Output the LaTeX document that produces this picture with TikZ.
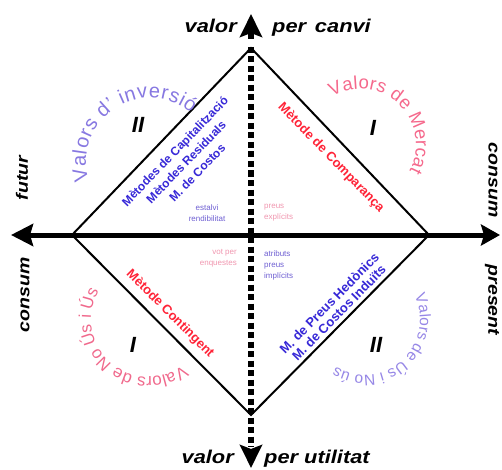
\documentclass[tikz,border=0pt]{standalone}
\usepackage{fontspec}
\setmainfont{Liberation Sans}
\newfontfamily\axisfont[FakeStretch=1.18]{Liberation Sans}
\usetikzlibrary{arrows.meta,decorations.text}

\definecolor{invcol}{RGB}{135,120,225}
\definecolor{mercol}{RGB}{245,105,140}
\definecolor{nouscol}{RGB}{240,105,140}
\definecolor{uscol}{RGB}{150,135,230}
\definecolor{metblue}{RGB}{55,40,215}
\definecolor{metred}{RGB}{255,35,55}
\definecolor{smallblue}{RGB}{110,95,210}
\definecolor{smallpink}{RGB}{240,150,175}

\newcommand\arcfontA{\fontsize{20}{20}\selectfont\color{invcol}}
\newcommand\arcfontB{\fontsize{18.5}{18.5}\selectfont\color{mercol}}
\newcommand\arcfontC{\fontsize{17}{17}\selectfont\color{nouscol}}
\newcommand\arcfontD{\fontsize{15.5}{15.5}\selectfont\color{uscol}}

\begin{document}
\begin{tikzpicture}[x=1pt,y=1pt,
  axislabel/.style={font=\axisfont\bfseries\itshape\fontsize{18.5}{18.5}\selectfont, inner sep=0pt},
  sidelabel/.style={font=\axisfont\bfseries\itshape\fontsize{16.5}{16.5}\selectfont, inner sep=0pt},
  numeral/.style={font=\bfseries\itshape\fontsize{22}{22}\selectfont, inner sep=0pt},
  methodtxt/.style={font=\bfseries\fontsize{12}{15.5}\selectfont, align=center, inner sep=0pt},
  smalltxt/.style={font=\fontsize{8}{11}\selectfont, inner sep=0pt},
  diamondline/.style={line width=2pt, line join=miter},
  haxis/.style={line width=5pt, {Stealth[length=22pt,width=22pt,inset=3pt]}-{Stealth[length=19pt,width=21pt,inset=3pt]}},
  vaxis/.style={line width=6pt, dash pattern=on 6pt off 3.5pt},
  vtip/.style={line width=6pt, -{Stealth[length=23pt,width=22pt,inset=4pt]}},
  arctext/.style={decorate, decoration={text along path, text align=fit to path, text={#1}}},
]
\useasboundingbox (0,0) rectangle (502,469);

% diamond
\coordinate (T) at (251,421);
\coordinate (R) at (429,234);
\coordinate (B) at (251,54);
\coordinate (L) at (72,234);
\draw[diamondline] (T) -- (R) -- (B) -- (L) -- cycle;

% axes
\coordinate (hl) at (11,234);
\coordinate (hr) at (500,234);
\draw[haxis] (hl) -- (hr);
\coordinate (vt) at (251,422);
\coordinate (vb) at (251,22);
\draw[vaxis] (vt) -- (vb);
\coordinate (tipTb) at (251,430);
\coordinate (tipT) at (251,455);
\draw[vtip] (tipTb) -- (tipT);
\coordinate (tipBb) at (251,20);
\coordinate (tipB) at (251,1);
\draw[vtip] (tipBb) -- (tipB);

% axis labels
\node[axislabel, anchor=base east] (valT) at (237,436) {valor};
\node[axislabel, anchor=base west] (canvi) at (272,436) {per\hspace{0.15em} canvi};
\node[axislabel, anchor=base east] (valB) at (234,6) {valor};
\node[axislabel, anchor=base west] (util) at (264,6) {per utilitat};
\node[sidelabel, rotate=90] (futur) at (22,291) {futur};
\node[sidelabel, rotate=90] (consL) at (25,174) {consum};
\node[sidelabel, rotate=-90] (consR) at (493,289) {consum};
\node[sidelabel, rotate=-90] (pres) at (492,169) {present};

% numerals
\node[numeral] (n1) at (138,344) {II};
\node[numeral] (n2) at (373,341) {I};
\node[numeral] (n3) at (133,124) {I};
\node[numeral] (n4) at (376,124) {II};

% arc texts
\path[arctext={|\arcfontA|Valors d' inversió}] (150,307) ++(197:64) arc[start angle=197, end angle=50, radius=64];
\path[arctext={|\arcfontB|Valors de Mercat}] (360,324) ++(120:56) arc[start angle=120, end angle=-28, radius=56];
\path[arctext={|\arcfontC|Valors de No Ús i Ús}] (148,149) ++(-52:57) arc[start angle=-52, end angle=-207, radius=57];
\path[arctext={|\arcfontD|Valors de Ús i No ús}] (365,149) ++(26:55) arc[start angle=26, end angle=-122, radius=55];

% method texts
\node[methodtxt, text=metblue, rotate=46] (mUL) at (186,307) {Mètodes de Capitalització\\Mètodes Residuals\\M. de Costos};
\node[methodtxt, text=metred, font=\bfseries\fontsize{13}{15}\selectfont, rotate=-46] (mUR) at (331,311) {Mètode de Comparança};
\node[methodtxt, text=metred, font=\bfseries\fontsize{13}{15}\selectfont, rotate=-45] (mLL) at (170,155) {Mètode Contingent};
\node[methodtxt, text=metblue, font=\bfseries\fontsize{13}{13.5}\selectfont, rotate=45.5] (mLR) at (334,161) {M. de Preus Hedònics\\M. de Costos Induïts};

% small texts
\node[smalltxt, text=smallblue, align=center] (est) at (207,255.5) {estalvi\\rendibilitat};
\node[smalltxt, text=smallpink, align=left, anchor=west] (pex) at (264,256) {preus\\explícits};
\node[smalltxt, text=smallpink, align=right, anchor=east] (vot) at (237,211) {vot per\\enquestes};
\node[smalltxt, text=smallblue, align=left, anchor=west] (atr) at (264,204) {atributs\\preus\\implícits};
\end{tikzpicture}
\end{document}
